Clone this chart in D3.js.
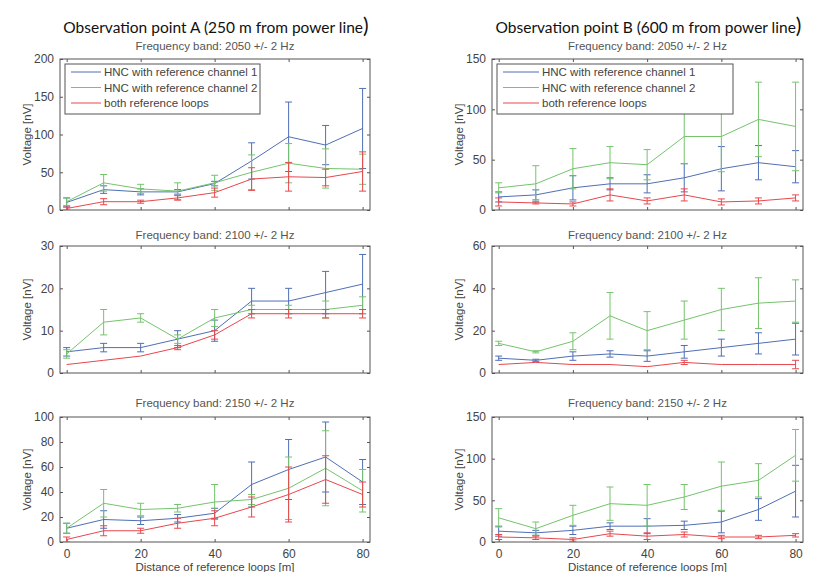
<!DOCTYPE html>
<html>
<head>
<meta charset="utf-8">
<script src="https://cdn.jsdelivr.net/npm/d3@7"></script>
<style>
  body { margin: 0; background: #fff; }
  svg { display: block; }
</style>
</head>
<body>
<script>
var svgWidth = 823;
var svgHeight = 572;

// Datos
var distances = [0, 10, 20, 30, 40, 50, 60, 70, 80];
var seriesNames = ["HNC with reference channel 1", "HNC with reference channel 2", "both reference loops"];
var seriesColors = ["#4f6fb6", "#74c46c", "#e8474c"];
var pointTitles = ["Observation point A (250 m from power line", "Observation point B (600 m from power line"];
var bandTitles = ["Frequency band: 2050 +/- 2 Hz", "Frequency band: 2100 +/- 2 Hz", "Frequency band: 2150 +/- 2 Hz"];
var xTicks = [0, 20, 40, 60, 80];

// Punto A
var a2050Ch1 = [10, 27, 24, 24, 35, 65, 97, 86, 108];
var a2050Ch1Err = [6, 5, 4, 3, 3, 24, 46, 26, 53];
var a2050Ch2 = [11, 36, 28, 25, 36, 50, 62, 55, 54];
var a2050Ch2Err = [5, 11, 6, 11, 10, 23, 26, 26, 20];
var a2050Both = [2, 11, 11, 16, 23, 41, 44, 43, 51];
var a2050BothErr = [2, 4, 2, 3, 6, 15, 19, 11, 26];

var a2100Ch1 = [5, 6, 6, 8, 10, 17, 17, 19, 21];
var a2100Ch1Err = [1, 1, 1, 2, 2.5, 3, 3, 5, 7];
var a2100Ch2 = [4.5, 12, 13, 8, 13, 15, 15, 15, 16];
var a2100Ch2Err = [1, 3, 1, 1, 2, 1, 1, 2, 2];
var a2100Both = [2, 3, 4, 6, 9, 14, 14, 14, 14];
var a2100BothErr = [0, 0, 0, 0.5, 1, 1, 1, 1, 1];

var a2150Ch1 = [11, 18, 17, 19, 23, 46, 58, 68, 48];
var a2150Ch1Err = [4, 7, 3, 3, 4, 18, 24, 28, 18];
var a2150Ch2 = [11, 31, 26, 27, 32, 34, 43, 59, 41];
var a2150Ch2Err = [4, 11, 5, 3, 14, 4, 25, 30, 17];
var a2150Both = [2, 9, 9, 15, 19, 28, 38, 50, 38];
var a2150BothErr = [2, 4, 2, 4, 6, 8, 22, 19, 10];

// Punto B
var b2050Ch1 = [13, 15, 22, 26, 26, 32, 41, 47, 43];
var b2050Ch1Err = [5, 5, 12, 6, 9, 14, 22, 17, 16];
var b2050Ch2 = [22, 26, 41, 47, 45, 73, 73, 90, 83];
var b2050Ch2Err = [5, 18, 20, 16, 15, 27, 35, 37, 44];
var b2050Both = [8, 7, 6, 15, 9, 15, 8, 9, 12];
var b2050BothErr = [4, 1, 2, 6, 3, 6, 3, 3, 3];

var b2100Ch1 = [7, 6, 8, 9, 8, 10, 12, 14, 16];
var b2100Ch1Err = [1, 0.5, 2, 1.5, 2.5, 3, 4, 5, 7.5];
var b2100Ch2 = [14, 10, 15, 27, 20, 25, 30, 33, 34];
var b2100Ch2Err = [1, 0.5, 4, 11, 9, 9, 10, 12, 10];
var b2100Both = [4, 5, 4, 4, 3, 5, 4, 4, 4];
var b2100BothErr = [0, 0, 0, 0, 0, 1, 0, 0, 2];

var b2150Ch1 = [13, 11, 14, 19, 19, 20, 24, 39, 61];
var b2150Ch1Err = [6, 3, 5, 4, 9, 5, 13, 13, 31];
var b2150Ch2 = [29, 16, 32, 46, 44, 54, 67, 74, 104];
var b2150Ch2Err = [11, 8, 12, 20, 25, 15, 29, 20, 31];
var b2150Both = [6, 5, 3, 10, 7, 9, 6, 6, 8];
var b2150BothErr = [3, 2, 2, 3, 4, 3, 2, 2, 2];

var yTicksA = [[0, 50, 100, 150, 200], [0, 10, 20, 30], [0, 20, 40, 60, 80, 100]];
var yTicksB = [[0, 50, 100, 150], [0, 20, 40, 60], [0, 50, 100, 150]];

// Paneles
var columns = [
  { left: 60, right: 370, title: pointTitles[0], ticks: yTicksA,
    data: [
      [[a2050Ch1, a2050Ch1Err], [a2050Ch2, a2050Ch2Err], [a2050Both, a2050BothErr]],
      [[a2100Ch1, a2100Ch1Err], [a2100Ch2, a2100Ch2Err], [a2100Both, a2100BothErr]],
      [[a2150Ch1, a2150Ch1Err], [a2150Ch2, a2150Ch2Err], [a2150Both, a2150BothErr]]
    ] },
  { left: 492, right: 803, title: pointTitles[1], ticks: yTicksB,
    data: [
      [[b2050Ch1, b2050Ch1Err], [b2050Ch2, b2050Ch2Err], [b2050Both, b2050BothErr]],
      [[b2100Ch1, b2100Ch1Err], [b2100Ch2, b2100Ch2Err], [b2100Both, b2100BothErr]],
      [[b2150Ch1, b2150Ch1Err], [b2150Ch2, b2150Ch2Err], [b2150Both, b2150BothErr]]
    ] }
];
var rows = [
  { top: 59, bottom: 210, titleY: 50 },
  { top: 246, bottom: 373, titleY: 239 },
  { top: 417, bottom: 542, titleY: 407 }
];

var svg = d3.select("body")
  .append("svg")
  .attr("width", svgWidth)
  .attr("height", svgHeight)
  .style("font-family", "'Liberation Sans', Arial, sans-serif");

var axisColor = "#555";
var textColor = "#444";
var tickLen = 3;

columns.forEach(function(col, ci) {
  // Título grande
  var t = svg.append("text")
    .attr("x", (col.left + col.right) / 2 + 1)
    .attr("y", 33)
    .attr("text-anchor", "middle")
    .style("font-family", "Lato, 'Open Sans', sans-serif")
    .style("font-size", "15.5px")
    .style("fill", "#111");
  t.append("tspan").text(col.title);
  t.append("tspan").style("font-size", "21px").text(")");

  rows.forEach(function(row, ri) {
    var xScale = d3.scaleLinear().domain([-1.8, 82]).range([col.left, col.right]);
    var yTicks = col.ticks[ri];
    var yScale = d3.scaleLinear()
      .domain([0, yTicks[yTicks.length - 1]])
      .range([row.bottom, row.top]);

    var g = svg.append("g");
    var clipId = "clip" + ci + "_" + ri;
    g.append("clipPath").attr("id", clipId)
      .append("rect")
      .attr("x", col.left).attr("y", row.top)
      .attr("width", col.right - col.left).attr("height", row.bottom - row.top);

    // Subtítulo
    g.append("text")
      .attr("x", (col.left + col.right) / 2)
      .attr("y", row.titleY)
      .attr("text-anchor", "middle")
      .style("font-size", "11.5px")
      .style("fill", "#555")
      .text(bandTitles[ri]);

    // Ejes (marcas hacia dentro, en los cuatro lados)
    var axL = g.append("g").attr("transform", "translate(" + col.left + ",0)")
      .call(d3.axisLeft(yScale).tickValues(yTicks).tickSizeInner(-tickLen).tickSizeOuter(0).tickPadding(6));
    var axR = g.append("g").attr("transform", "translate(" + col.right + ",0)")
      .call(d3.axisRight(yScale).tickValues(yTicks).tickSizeInner(-tickLen).tickSizeOuter(0).tickFormat(""));
    var axT = g.append("g").attr("transform", "translate(0," + row.top + ")")
      .call(d3.axisTop(xScale).tickValues(xTicks).tickSizeInner(-tickLen).tickSizeOuter(0).tickFormat(""));
    var axB = g.append("g").attr("transform", "translate(0," + row.bottom + ")")
      .call(d3.axisBottom(xScale).tickValues(xTicks).tickSizeInner(-tickLen).tickSizeOuter(0).tickPadding(7)
        .tickFormat(ri === 2 ? d3.format("d") : ""));
    [axL, axR, axT, axB].forEach(function(a) {
      a.select(".domain").remove();
      a.selectAll("line").attr("stroke", axisColor);
      a.selectAll("text").style("font-size", "12px").style("fill", textColor)
        .style("font-family", "'Liberation Sans', Arial, sans-serif");
    });

    g.append("rect")
      .attr("x", col.left).attr("y", row.top)
      .attr("width", col.right - col.left).attr("height", row.bottom - row.top)
      .attr("fill", "none").attr("stroke", axisColor).attr("stroke-width", 1);

    // Etiqueta eje y
    g.append("text")
      .attr("transform", "translate(" + (col.left - 29) + "," + ((row.top + row.bottom) / 2) + ") rotate(-90)")
      .attr("text-anchor", "middle")
      .style("font-size", "11.5px")
      .style("fill", textColor)
      .text("Voltage [nV]");

    // Series
    var plot = g.append("g").attr("clip-path", "url(#" + clipId + ")");
    var line = d3.line()
      .x(function(d) { return xScale(d.x); })
      .y(function(d) { return yScale(d.y); });

    col.data[ri].forEach(function(s, si) {
      var pts = distances.map(function(x, i) { return { x: x, y: s[0][i], e: s[1][i] }; });
      var sg = plot.append("g").attr("stroke", seriesColors[si]).attr("fill", "none").attr("stroke-width", 1);
      sg.append("path").datum(pts).attr("d", line);
      var eb = sg.selectAll(".eb").data(pts.filter(function(p) { return p.e > 0; })).enter().append("g");
      eb.append("line")
        .attr("x1", function(d) { return xScale(d.x); })
        .attr("x2", function(d) { return xScale(d.x); })
        .attr("y1", function(d) { return yScale(d.y - d.e); })
        .attr("y2", function(d) { return yScale(d.y + d.e); });
      [-1, 1].forEach(function(sign) {
        eb.append("line")
          .attr("x1", function(d) { return xScale(d.x) - 3.5; })
          .attr("x2", function(d) { return xScale(d.x) + 3.5; })
          .attr("y1", function(d) { return yScale(d.y + sign * d.e); })
          .attr("y2", function(d) { return yScale(d.y + sign * d.e); });
      });
    });

    // Leyenda en la fila superior
    if (ri === 0) {
      var lx = col.left + 5;
      var lw = ci === 0 ? 195 : 236;
      var lineLen = ci === 0 ? 30 : 36;
      var leg = g.append("g");
      leg.append("rect")
        .attr("x", lx).attr("y", row.top + 5)
        .attr("width", lw).attr("height", 50)
        .attr("fill", "#fff").attr("stroke", axisColor);
      seriesNames.forEach(function(name, si) {
        var ly = row.top + 13 + si * 15.5;
        leg.append("line")
          .attr("x1", lx + 6).attr("x2", lx + 6 + lineLen)
          .attr("y1", ly).attr("y2", ly)
          .attr("stroke", seriesColors[si]);
        leg.append("text")
          .attr("x", lx + 9 + lineLen).attr("y", ly + 4)
          .style("font-size", "11.5px").style("fill", textColor)
          .text(name);
      });
    }

    if (ri === 2) {
      g.append("text")
        .attr("x", (col.left + col.right) / 2)
        .attr("y", 571)
        .attr("text-anchor", "middle")
        .style("font-size", "11.5px")
        .style("fill", textColor)
        .text("Distance of reference loops [m]");
    }
  });
});
</script>
</body>
</html>
